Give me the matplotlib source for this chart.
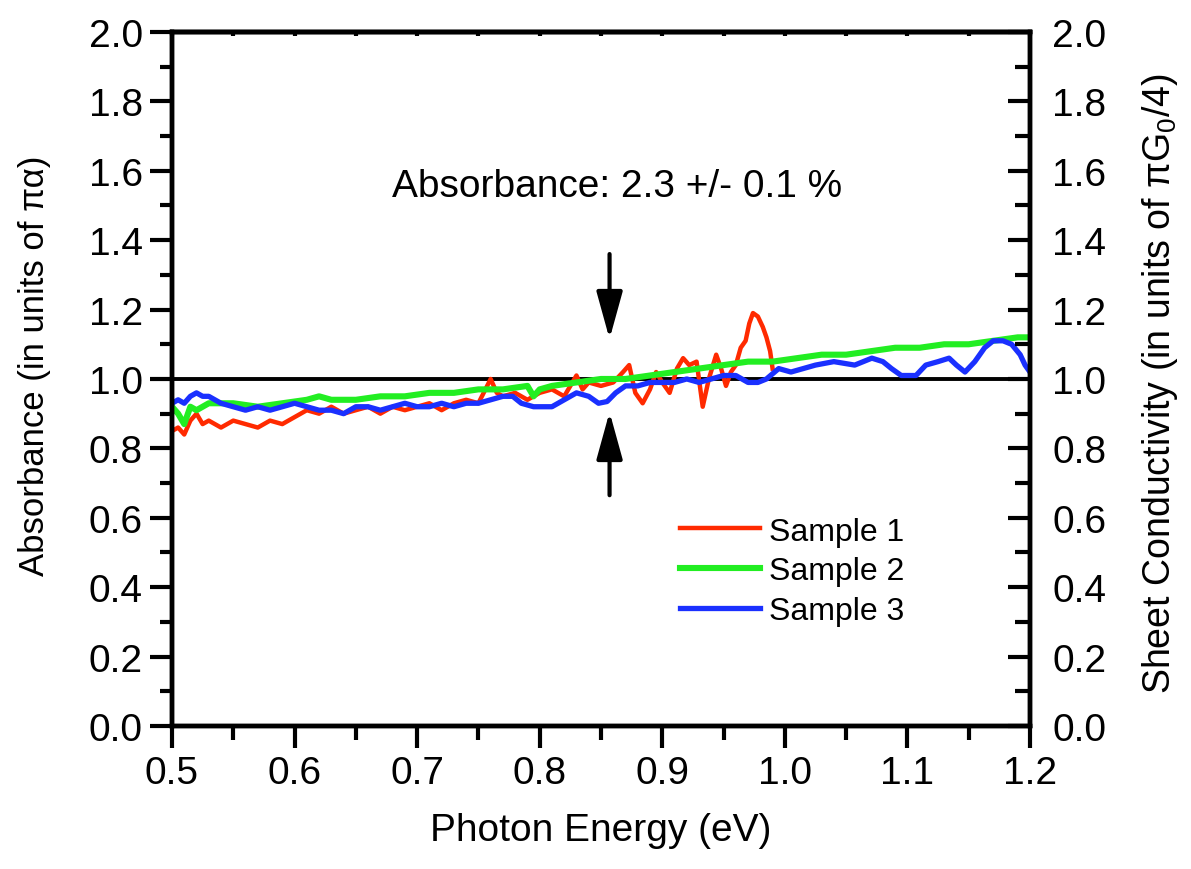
import matplotlib
matplotlib.use("Agg")
import matplotlib.pyplot as plt
from matplotlib.ticker import MultipleLocator

plt.rcParams["font.family"] = ["Liberation Sans", "DejaVu Sans"]
plt.rcParams["mathtext.fontset"] = "custom"
plt.rcParams["mathtext.rm"] = "Liberation Sans"
plt.rcParams["mathtext.it"] = "Liberation Sans:italic"

# Sample 1 (red)
e1 = [0.500, 0.505, 0.510, 0.515, 0.520, 0.525, 0.530, 0.540, 0.550, 0.560,
      0.570, 0.580, 0.590, 0.600, 0.610, 0.620, 0.630, 0.640, 0.650, 0.660,
      0.670, 0.680, 0.690, 0.700, 0.710, 0.720, 0.730, 0.740, 0.750, 0.760,
      0.765, 0.770, 0.780, 0.790, 0.800, 0.810, 0.820, 0.830, 0.835, 0.840,
      0.850, 0.860, 0.868, 0.873, 0.878, 0.884, 0.890, 0.895, 0.900, 0.906,
      0.912, 0.917, 0.922, 0.928, 0.933, 0.938, 0.944, 0.948, 0.952, 0.956,
      0.960, 0.964, 0.968, 0.971, 0.974, 0.978, 0.982, 0.985, 0.988, 0.990]
a1 = [0.85, 0.86, 0.84, 0.88, 0.90, 0.87, 0.88, 0.86, 0.88, 0.87,
      0.86, 0.88, 0.87, 0.89, 0.91, 0.90, 0.92, 0.90, 0.91, 0.92,
      0.90, 0.92, 0.91, 0.92, 0.93, 0.91, 0.93, 0.94, 0.93, 1.00,
      0.96, 0.95, 0.96, 0.94, 0.96, 0.97, 0.95, 1.01, 0.97, 0.99,
      0.98, 0.99, 1.02, 1.04, 0.96, 0.93, 0.97, 1.02, 0.99, 0.96,
      1.03, 1.06, 1.04, 1.05, 0.92, 1.00, 1.07, 1.03, 0.98, 1.02,
      1.04, 1.09, 1.11, 1.16, 1.19, 1.18, 1.15, 1.12, 1.08, 1.03]

# Sample 2 (green)
e2 = [0.500, 0.505, 0.510, 0.515, 0.520, 0.530, 0.550, 0.570, 0.590, 0.610,
      0.620, 0.630, 0.650, 0.670, 0.690, 0.710, 0.730, 0.750, 0.770, 0.790,
      0.795, 0.800, 0.810, 0.830, 0.850, 0.870, 0.890, 0.910, 0.930, 0.950,
      0.970, 0.990, 1.010, 1.030, 1.050, 1.070, 1.090, 1.110, 1.130, 1.150,
      1.170, 1.190, 1.200]
a2 = [0.92, 0.90, 0.87, 0.92, 0.91, 0.93, 0.93, 0.92, 0.93, 0.94,
      0.95, 0.94, 0.94, 0.95, 0.95, 0.96, 0.96, 0.97, 0.97, 0.98,
      0.95, 0.97, 0.98, 0.99, 1.00, 1.00, 1.01, 1.02, 1.03, 1.04,
      1.05, 1.05, 1.06, 1.07, 1.07, 1.08, 1.09, 1.09, 1.10, 1.10,
      1.11, 1.12, 1.12]

# Sample 3 (blue)
e3 = [0.500, 0.505, 0.510, 0.515, 0.520, 0.525, 0.530, 0.540, 0.550, 0.560,
      0.570, 0.580, 0.590, 0.600, 0.610, 0.620, 0.630, 0.640, 0.650, 0.660,
      0.670, 0.680, 0.690, 0.700, 0.710, 0.720, 0.730, 0.740, 0.750, 0.760,
      0.770, 0.778, 0.785, 0.795, 0.810, 0.820, 0.830, 0.840, 0.848, 0.855,
      0.862, 0.870, 0.880, 0.890, 0.900, 0.910, 0.920, 0.930, 0.940, 0.950,
      0.960, 0.970, 0.978, 0.985, 0.995, 1.005, 1.015, 1.025, 1.040, 1.057,
      1.071, 1.080, 1.087, 1.095, 1.107, 1.115, 1.125, 1.134, 1.140, 1.147,
      1.155, 1.163, 1.170, 1.178, 1.185, 1.192, 1.196, 1.200]
a3 = [0.93, 0.94, 0.93, 0.95, 0.96, 0.95, 0.95, 0.93, 0.92, 0.91,
      0.92, 0.91, 0.92, 0.93, 0.92, 0.91, 0.91, 0.90, 0.92, 0.92,
      0.91, 0.92, 0.93, 0.92, 0.92, 0.93, 0.92, 0.93, 0.93, 0.94,
      0.95, 0.95, 0.93, 0.92, 0.92, 0.94, 0.96, 0.95, 0.93, 0.935,
      0.96, 0.98, 0.98, 0.99, 0.99, 0.99, 1.00, 0.99, 1.00, 1.01,
      1.01, 0.99, 0.99, 1.00, 1.03, 1.02, 1.03, 1.04, 1.05, 1.04,
      1.06, 1.05, 1.03, 1.01, 1.01, 1.04, 1.05, 1.06, 1.04, 1.02,
      1.05, 1.09, 1.11, 1.11, 1.10, 1.07, 1.04, 1.02]

fig = plt.figure(figsize=(11.91, 8.70), dpi=100)
ax = fig.add_axes([0.1444, 0.1644, 0.7204, 0.7977])

ax.axhline(1.0, color="black", lw=2.8, zorder=1.5)
ax.plot(e1, a1, color="#ff2a00", lw=3.2, label="Sample 1", zorder=2)
ax.plot(e2, a2, color="#22ee22", lw=4.4, label="Sample 2", zorder=2.2)
ax.plot(e3, a3, color="#1a30ff", lw=3.8, label="Sample 3", zorder=2.4)

ax.set_xlim(0.5, 1.2)
ax.set_ylim(0.0, 2.0)
ax.xaxis.set_major_locator(MultipleLocator(0.1))
ax.xaxis.set_minor_locator(MultipleLocator(0.05))
ax.yaxis.set_major_locator(MultipleLocator(0.2))
ax.yaxis.set_minor_locator(MultipleLocator(0.1))

for s in ax.spines.values():
    s.set_linewidth(3.2)

ax.tick_params(axis="y", which="major", direction="out", length=16, width=3,
               labelsize=28, pad=5, right=False)
ax.tick_params(axis="y", which="minor", direction="out", length=9, width=3,
               right=False)
ax.tick_params(axis="x", which="major", direction="out", length=16, width=3,
               labelsize=28, pad=5, top=False)
ax.tick_params(axis="x", which="minor", direction="out", length=10, width=3,
               top=False)

# short inward ticks on the top axis
top = ax.secondary_xaxis("top")
top.xaxis.set_major_locator(MultipleLocator(0.05))
top.tick_params(direction="in", length=3, width=3, labeltop=False)
top.spines["top"].set_linewidth(3.2)

# right axis: sheet conductivity, same scale
ax2 = ax.twinx()
ax2.set_ylim(0.0, 2.0)
ax2.yaxis.set_major_locator(MultipleLocator(0.2))
ax2.yaxis.set_minor_locator(MultipleLocator(0.1))
ax2.tick_params(axis="y", which="major", direction="in", length=16, width=3,
                labelsize=28, pad=16)
ax2.tick_params(axis="y", which="minor", direction="in", length=11, width=3)
for s in ax2.spines.values():
    s.set_linewidth(3.2)

ax.set_xlabel("Photon Energy (eV)", fontsize=28)
ax.xaxis.label.set_va("center")
ax.xaxis.set_label_coords(0.5, -0.15)

ax.set_ylabel("Absorbance (in units of πα)", fontsize=25)
ax.yaxis.label.set_va("center")
ax.yaxis.set_label_coords(-0.160, 0.52)

ax2.set_ylabel("Sheet Conductivity (in units of π$\\mathregular{G_0}$/4)", fontsize=27)
ax2.yaxis.label.set_va("center")
ax2.yaxis.set_label_coords(1.1515, 0.495)

ax.text(0.863, 1.556, "Absorbance: 2.3 +/- 0.1 %", fontsize=28,
        ha="center", va="center")

arrow = dict(arrowstyle="-|>,head_length=1.45,head_width=0.4", color="black",
             lw=3, mutation_scale=20, shrinkA=0, shrinkB=0)
ax.annotate("", xy=(0.857, 1.115), xytext=(0.857, 1.36), arrowprops=arrow)
ax.annotate("", xy=(0.857, 0.905), xytext=(0.857, 0.665), arrowprops=arrow)

ax.legend(loc="center left", bbox_to_anchor=(0.592, 0.223), frameon=False,
          fontsize=23, handlelength=2.5, handletextpad=0.3, labelspacing=0.3,
          borderpad=0, borderaxespad=0)

fig.savefig("out.png", dpi=100)
